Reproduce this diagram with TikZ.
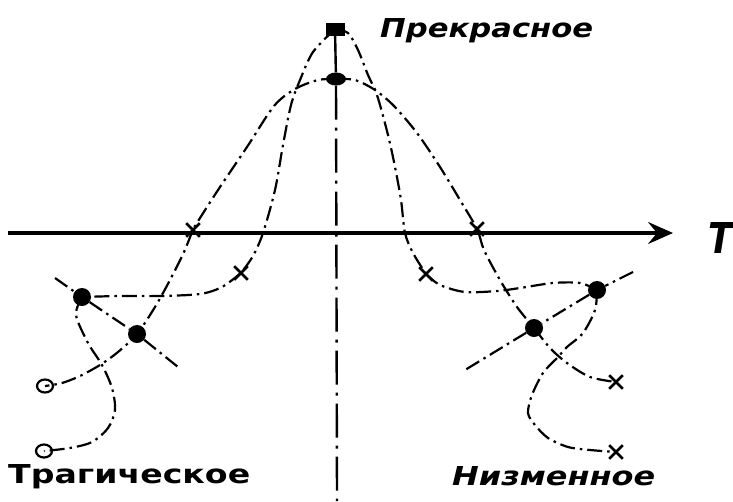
\documentclass[tikz,border=0pt]{standalone}
\usepackage{fontspec}
\setmainfont{DejaVu Sans}
\usetikzlibrary{arrows.meta}
\usetikzlibrary{shapes.misc, shapes.geometric}

\tikzset{
  curve/.style={line width=2.2pt, dash pattern=on 15pt off 5pt on 2.5pt off 5pt},
  centreline/.style={line width=2.4pt, dash pattern=on 34pt off 8pt on 3pt off 8pt},
  axisline/.style={line width=3.2pt, -{Stealth[length=25pt, width=22pt, inset=9pt]}},
  fdot/.style={circle, fill=black, inner sep=0pt, minimum size=18pt},
  xmark/.style={cross out, draw, line width=2.6pt, minimum size=11pt, inner sep=0pt},
  ring/.style={ellipse, draw, line width=2.2pt, minimum width=16pt, minimum height=13pt, inner sep=0pt},
  lbl/.style={inner sep=0pt, anchor=base west}
}

\begin{document}
\begin{tikzpicture}[x=1pt,y=-1pt]
\useasboundingbox (0,0) rectangle (733,501);

\node[rectangle, fill=black, minimum width=19pt, minimum height=13pt, inner sep=0pt] (top) at (335,29) {};
\node[ellipse, fill=black, minimum width=20pt, minimum height=13pt, inner sep=0pt] (mid) at (336,79) {};
\node[fdot] (lu) at (82,297) {};
\node[fdot] (ll) at (137,334) {};
\node[fdot] (ru) at (597,290) {};
\node[fdot] (rl) at (534,328) {};
\node[xmark] (lxo) at (193,230) {};
\node[xmark] (lxi) at (241,273) {};
\node[xmark] (rxi) at (426,274) {};
\node[xmark] (rxo) at (477,229) {};
\node[xmark] (rxa) at (616,382) {};
\node[xmark] (rxb) at (616,452) {};
\node[ring] (loa) at (45,386) {};
\node[ring] (lob) at (44,451) {};
\coordinate (ax0) at (8,233);
\coordinate (ax1) at (673,233);
\coordinate (bot) at (337,501);
\coordinate (lta) at (55,278);
\coordinate (ltb) at (178,367);
\coordinate (rta) at (633,272);
\coordinate (rtb) at (465,370);

\draw[axisline] (ax0) -- (ax1);
\draw[line width=2.4pt] (top) -- (mid);
\draw[centreline] (mid) -- (bot);

\draw[curve] plot[smooth] coordinates {(top) (313,52) (300,80) (291,105) (283,145) (275,190) (263,233) (253,256) (lxi)};
\draw[curve] plot[smooth] coordinates {(lxi) (222,287) (200,294) (160,296) (120,296) (lu)};
\draw[curve] plot[smooth] coordinates {(lu) (76,315) (88,343) (102,365) (112,388) (115,410) (108,428) (92,442) (70,448) (lob)};
\draw[curve] plot[smooth] coordinates {(mid) (318,80) (295,89) (274,106) (247,147) (220,187) (200,218) (lxo) (184,252) (170,280) (155,307) (ll) (118,352) (100,365) (80,376) (62,383) (loa)};
\draw[curve] (lta) -- (lu) -- (ll) -- (ltb);

\draw[curve] plot[smooth] coordinates {(top) (348,33) (358,50) (368,75) (377,95) (388,135) (395,167) (401,200) (405,233) (413,253) (rxi)};
\draw[curve] plot[smooth] coordinates {(rxi) (440,285) (465,292) (497,291) (520,288) (553,283) (580,283) (ru)};
\draw[curve] plot[smooth] coordinates {(ru) (595,310) (583,333) (567,347) (558,357) (543,373) (532,395) (528,413) (535,425) (548,438) (568,447) (590,450) (rxb)};
\draw[curve] plot[smooth] coordinates {(mid) (355,80) (375,90) (394,106) (417,133) (440,167) (460,200) (rxo) (484,250) (500,280) (517,307) (rl) (550,348) (567,363) (590,377) (rxa)};
\draw[curve] (rta) -- (ru) -- (rl) -- (rtb);

\node[lbl] (beau) at (380,37) {\resizebox{213pt}{19pt}{\bfseries\itshape Прекрасное}};
\node[lbl] (trag) at (8,483) {\resizebox{242pt}{19pt}{\bfseries Трагическое}};
\node[lbl] (base) at (452,485) {\resizebox{203pt}{19pt}{\bfseries\itshape Низменное}};
\node[lbl] (tlab) at (708,253) {\resizebox{24pt}{31pt}{\bfseries\itshape T}};
\end{tikzpicture}
\end{document}
